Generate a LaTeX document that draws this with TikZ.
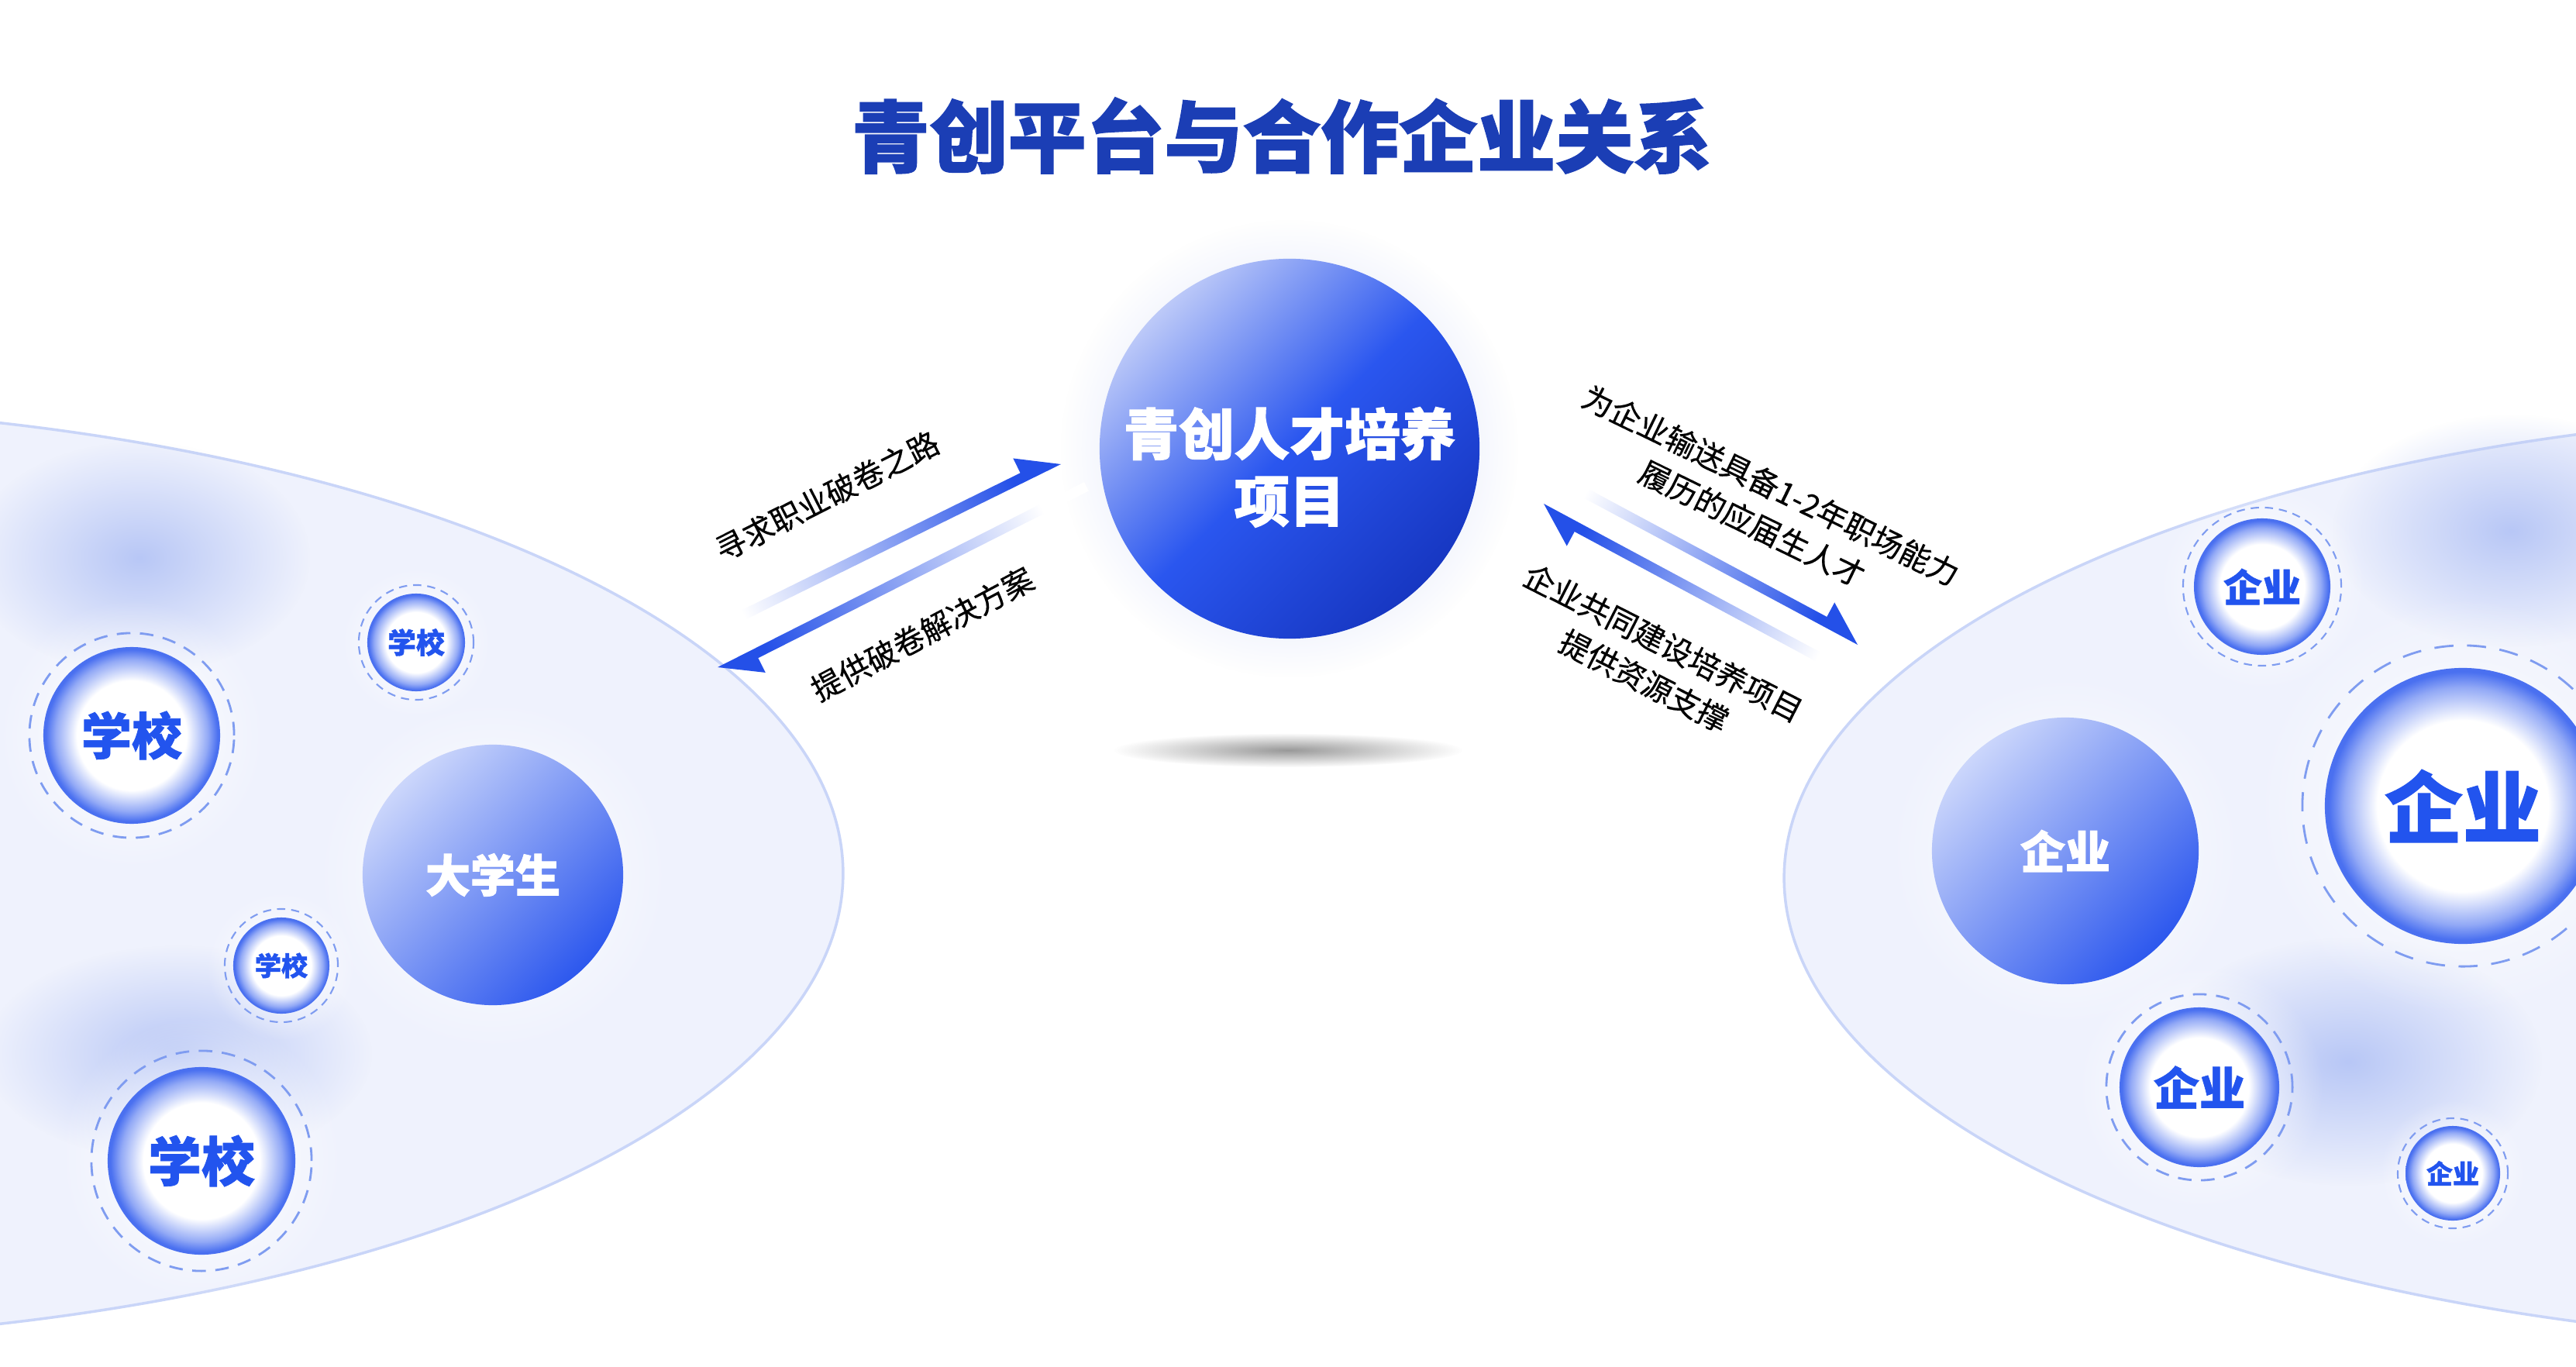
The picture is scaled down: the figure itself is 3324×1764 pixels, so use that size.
\documentclass[tikz,border=0pt]{standalone}
\usepackage{fontspec}
\setmainfont{Noto Sans CJK SC}
\newfontfamily\heavyfont{Noto Sans CJK SC}[BoldFeatures={FakeBold=1.6}]
\newfontfamily\ringfont{Noto Sans CJK SC}[BoldFeatures={FakeBold=1.0}]
\newfontfamily\medfont{Noto Sans CJK SC}[FakeBold=0.5]
\usetikzlibrary{calc,fadings}
\definecolor{titleblue}{HTML}{1B3EB5}
\definecolor{ringblue}{HTML}{4A70F0}
\definecolor{txtblue}{HTML}{2254EE}
\definecolor{ellfill}{HTML}{EFF2FD}
\definecolor{ellline}{HTML}{C9D5F8}
\definecolor{dashblue}{HTML}{7F9CF0}
\definecolor{arrowblue}{HTML}{2450E8}
\definecolor{gradlight}{HTML}{CBD6FB}
\definecolor{graddark}{HTML}{2D58EE}
\definecolor{cenlight}{HTML}{BCC9F8}
\definecolor{cenmid}{HTML}{2A56EF}
\definecolor{cendark}{HTML}{1737C2}
\definecolor{blobblue}{HTML}{B8C7F6}
\definecolor{haloblue}{HTML}{C8D3F8}
\pgfdeclareradialshading{ringshade}{\pgfpointorigin}{color(0bp)=(white); color(15.5bp)=(white); color(21.5bp)=(ringblue!60); color(24.3bp)=(ringblue); color(25bp)=(ringblue); color(50bp)=(ringblue)}
\tikzfading[name=fuzzy, inner color=transparent!0, outer color=transparent!100]
\tikzset{
  ringnode/.style={circle, shade, shading=ringshade, text=txtblue, inner sep=0pt},
  ballnode/.style={circle, top color=gradlight, bottom color=graddark, shading angle=45, text=white, inner sep=0pt},
  dashbig/.style={draw=dashblue, line width=0.8pt, dash pattern=on 5pt off 3.5pt},
  dashsmall/.style={draw=dashblue, line width=0.6pt, dash pattern=on 3pt off 2.2pt},
  lbltext/.style={text=black, inner sep=0pt, font=\medfont\fontsize{11.3pt}{15.6pt}\selectfont},
  blob/.style={fill=blobblue, path fading=fuzzy},
  whitehalo/.style={fill=white, path fading=fuzzy},
}
\newcommand\harrow[3]{%
  \coordinate (#1b) at ($(#2)!0.52cm!(#1)$);
  \coordinate (#1c) at ($(#1b)!0.34cm!-90:(#1)$);
  \coordinate (#1d) at ($(#1b)!0.13cm!-90:(#1)$);
  \coordinate (#1e) at ($(#1)!0.13cm!90:(#2)$);
  \shade[top color=arrowblue, bottom color=white, middle color=arrowblue!50, shading angle=#3]
    (#1) -- (#2) -- (#1c) -- (#1d) -- (#1e) -- cycle;
}
\begin{document}
\begin{tikzpicture}[x=0.01cm, y=-0.01cm]
\useasboundingbox (0,0) rectangle (3324,1764);
\clip (0,0) rectangle (3324,1764);
\fill[white] (0,0) rectangle (3324,1764);

% big ellipses
\draw[fill=ellfill, draw=ellline, line width=1pt] (-400,1127) ellipse[x radius=14.87cm, y radius=6.03cm];
\draw[fill=ellfill, draw=ellline, line width=1pt] (3790,1133) ellipse[x radius=14.87cm, y radius=6.02cm];

% blobs
\fill[blob] (180,720) ellipse[x radius=2.2cm, y radius=1.5cm];
\fill[blob] (230,1360) ellipse[x radius=2.5cm, y radius=1.4cm];
\fill[blob] (3240,685) ellipse[x radius=2.3cm, y radius=1.5cm];
\fill[blob] (3030,1370) ellipse[x radius=2.5cm, y radius=1.6cm];

% halos
\fill[haloblue, path fading=fuzzy] (1664,579) circle[radius=2.95cm];
\fill[black!40, path fading=fuzzy] (1662,968) ellipse[x radius=2.25cm, y radius=0.22cm];
\fill[whitehalo] (636,1129) circle[radius=2.3cm];
\fill[whitehalo] (2665,1098) circle[radius=2.3cm];
\fill[whitehalo] (170,949) circle[radius=1.75cm];
\fill[whitehalo] (537,829) circle[radius=0.98cm];
\fill[whitehalo] (363,1246) circle[radius=0.97cm];
\fill[whitehalo] (260,1498) circle[radius=1.85cm];
\fill[whitehalo] (2919,757) circle[radius=1.35cm];
\fill[whitehalo] (3178,1040) circle[radius=2.7cm];
\fill[whitehalo] (2838,1403) circle[radius=1.6cm];
\fill[whitehalo] (3165,1514) circle[radius=0.95cm];

% center node
\node[circle, top color=cenlight, bottom color=cendark, middle color=cenmid, shading angle=45, minimum size=4.9cm, inner sep=0pt] (cen) at (1664,579) {};
\node[text=white, align=center, font=\heavyfont\bfseries\fontsize{20.3pt}{24.6pt}\selectfont] (centxt) at (1664,603) {青创人才培养\\项目};

% left side
\node[ballnode, minimum size=3.36cm, font=\heavyfont\bfseries\fontsize{16.5pt}{18pt}\selectfont] (dxs) at (636,1129) {大学生};
\node[ringnode, minimum size=2.28cm, font=\ringfont\bfseries\fontsize{18.5pt}{20pt}\selectfont] (s1) at (170,949) {学校};
\draw[dashbig] (s1.center) circle[radius=1.32cm];
\node[ringnode, minimum size=1.26cm, font=\ringfont\bfseries\fontsize{10.5pt}{12pt}\selectfont] (s2) at (537,829) {学校};
\draw[dashsmall] (s2.center) circle[radius=0.74cm];
\node[ringnode, minimum size=1.24cm, font=\ringfont\bfseries\fontsize{9.7pt}{11pt}\selectfont] (s3) at (363,1246) {学校};
\draw[dashsmall] (s3.center) circle[radius=0.73cm];
\node[ringnode, minimum size=2.42cm, font=\ringfont\bfseries\fontsize{19.6pt}{21pt}\selectfont] (s4) at (260,1498) {学校};
\draw[dashbig] (s4.center) circle[radius=1.42cm];

% right side
\node[ballnode, minimum size=3.44cm, font=\heavyfont\bfseries\fontsize{16.5pt}{18pt}\selectfont] (qy) at (2665,1098) {企业};
\node[ringnode, minimum size=1.76cm, font=\ringfont\bfseries\fontsize{14.2pt}{16pt}\selectfont] (e1) at (2919,757) {企业};
\draw[dashsmall] (e1.center) circle[radius=1.02cm];
\node[ringnode, minimum size=3.56cm, font=\ringfont\bfseries\fontsize{28.7pt}{30pt}\selectfont] (e2) at (3178,1040) {企业};
\draw[dashbig, dash pattern=on 7pt off 5pt] (e2.center) circle[radius=2.07cm];
\node[ringnode, minimum size=2.06cm, font=\ringfont\bfseries\fontsize{16.8pt}{18pt}\selectfont] (e3) at (2838,1403) {企业};
\draw[dashbig] (e3.center) circle[radius=1.20cm];
\node[ringnode, minimum size=1.22cm, font=\ringfont\bfseries\fontsize{9.7pt}{11pt}\selectfont] (e4) at (3165,1514) {企业};
\draw[dashsmall] (e4.center) circle[radius=0.71cm];

% arrows
\coordinate (ta) at (906,827);  \coordinate (pa) at (1369,599);
\coordinate (tb) at (1399,622); \coordinate (pb) at (926,861);
\coordinate (tc) at (1994,616); \coordinate (pc) at (2397,832);
\coordinate (td) at (2398,868); \coordinate (pd) at (1992,650);
\harrow{ta}{pa}{-63.8}
\harrow{tb}{pb}{116.8}
\harrow{tc}{pc}{-118.2}
\harrow{td}{pd}{61.8}

% labels
\node[lbltext, rotate=27] (la) at (1067,640) {寻求职业破卷之路};
\node[lbltext, rotate=28] (lb) at (1190,818) {提供破卷解决方案};
\node[lbltext, rotate=-26, align=center] (lc) at (2273,651) {为企业输送具备1-2年职场能力\\履历的应届生人才};
\node[lbltext, rotate=-27, align=center] (ld) at (2134,854) {企业共同建设培养项目\\提供资源支撑};

% title
\node[text=titleblue, font=\heavyfont\bfseries\fontsize{28.7pt}{32pt}\selectfont] (title) at (1654,175) {青创平台与合作企业关系};
\end{tikzpicture}
\end{document}
